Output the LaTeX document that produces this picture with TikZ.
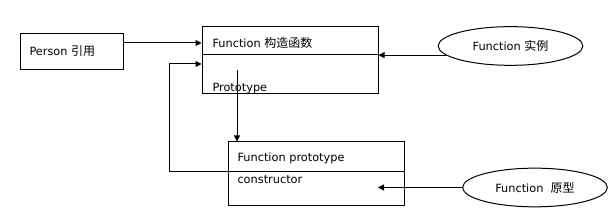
\documentclass[tikz,border=0pt]{standalone}
\usepackage{fontspec}
\setmainfont{DejaVu Sans}
\newfontfamily\cjk{Noto Sans CJK SC}
\usetikzlibrary{arrows.meta,shapes.geometric}

\begin{document}
\begin{tikzpicture}[
  x=0.75pt, y=-0.75pt, line width=0.75pt,
  every node/.style={font=\fontsize{8.5}{10}\selectfont, inner sep=0pt},
  box/.style={draw, minimum width=132pt},
  refbox/.style={draw, minimum width=77.25pt, minimum height=27pt},
  inst/.style={draw, ellipse, minimum width=108.5pt, minimum height=29pt},
  txt/.style={anchor=west},
  >={Triangle[length=4.5pt,width=4.5pt]}
]
  \useasboundingbox (0,0) rectangle (615,216);
  \node[refbox] (pr) at (71.5,52) {};
  \node[txt] (prt) at (29,51) {Person {\cjk\fontsize{9}{10}\selectfont 引用}};
  \node[box, minimum height=50.25pt] (fc) at (290,60.5) {};
  \draw ([yshift=-21pt]fc.north west) -- ([yshift=-21pt]fc.north east);
  \node[txt] (fct) at (212,43) {Function {\cjk\fontsize{9}{10}\selectfont 构造函数}};
  \begin{scope}
    \clip (fc.north west) rectangle (fc.south east);
    \node[txt] (fcp) at (212,89) {Prototype};
  \end{scope}
  \node[box, minimum height=48pt] (pt) at (316,174) {};
  \draw ([yshift=-22.5pt]pt.north west) coordinate (ptd) -- ([yshift=-22.5pt]pt.north east);
  \node[txt] (ptt) at (237,158) {Function prototype};
  \node[txt] (ptc) at (237,180) {constructor};
  \node[inst] (e1) at (510.5,46) {Function {\cjk\fontsize{9}{10}\selectfont 实例}};
  \node[inst] (e2) at (535,187.5) {Function\ \ {\cjk\fontsize{9}{10}\selectfont 原型}};
  \coordinate (lp) at (169,64);
  \coordinate (vt) at (237,70);
  \coordinate (pin) at (378,186);
  \draw[->] (pr.east |- fct) -- (fc.west |- fct);
  \draw[->] (ptd) -| (lp) -- (fc.west |- lp);
  \draw[->] (vt) -- (vt |- pt.north);
  \draw[->] (e1.188) -- (e1.188 -| fc.east);
  \draw[->] (e2.west) -- (e2.west -| pin);
\end{tikzpicture}
\end{document}
